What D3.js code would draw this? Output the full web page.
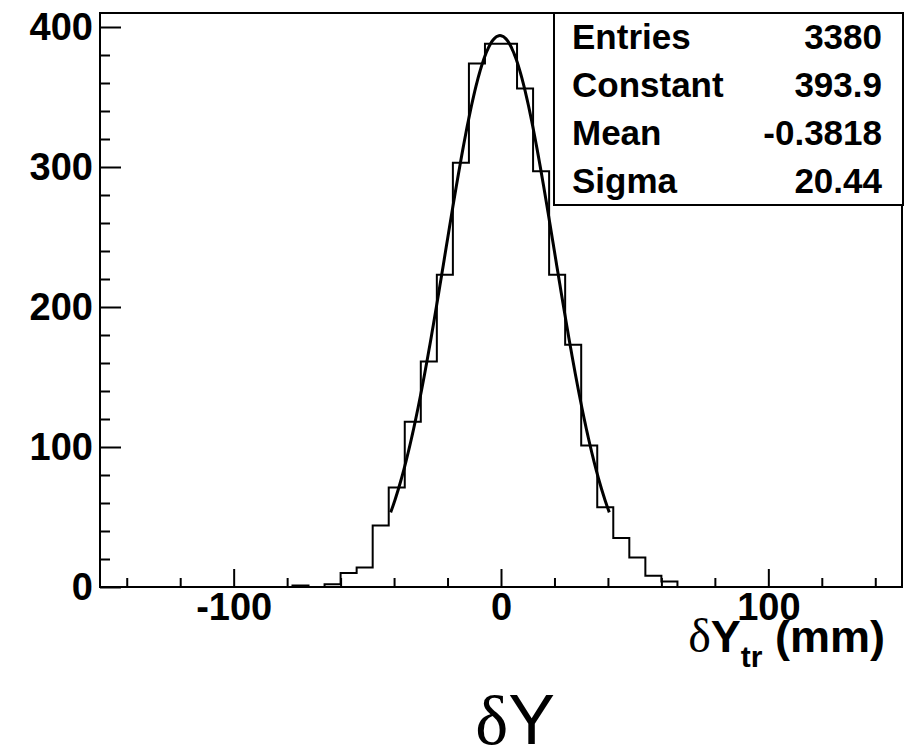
<!DOCTYPE html>
<html>
<head>
<meta charset="utf-8">
<script src="https://cdn.jsdelivr.net/npm/d3@7"></script>
<style>
  body { margin: 0; background: #fff; }
  svg { display: block; }
  .tick text { font-family: "Liberation Sans", Arial, sans-serif; font-weight: bold; font-size: 38px; fill: #000; }
  .tick line { stroke: #000; stroke-width: 2; }
  .stats text { font-family: "Liberation Sans", Arial, sans-serif; font-weight: bold; font-size: 35px; fill: #000; }
</style>
</head>
<body>
<svg id="chart" width="913" height="750"></svg>
<script>
// histogram: 50 bins from -150 to 150
const binLow = -150;
const binWidth = 6;
const counts = [
  0, 0, 0, 0, 0, 0, 0, 0, 0, 0,
  0, 0, 1, 0, 2, 10, 14, 44, 71, 118,
  161, 223, 303, 374, 388, 388, 356, 297, 223, 173,
  101, 57, 35, 21, 8, 4, 0, 0, 0, 0,
  0, 0, 0, 0, 0, 0, 0, 0, 0, 0
];

// gaussian fit parameters (from stats box)
const statLabels = ["Entries", "Constant", "Mean", "Sigma"];
const statValues = ["3380", "393.9", "-0.3818", "20.44"];
const fitConstant = 393.9, fitMean = -0.3818, fitSigma = 20.44;

const xMajorTicks = [-100, 0, 100];
const xMinorTicks = [-140, -120, -80, -60, -40, -20, 20, 40, 60, 80, 120, 140];
const yMajorTicks = [0, 100, 200, 300, 400];
const yMinorTicks = [20, 40, 60, 80, 120, 140, 160, 180, 220, 240, 260, 280, 320, 340, 360, 380];

const svg = d3.select("#chart");
const frame = { left: 100, right: 902, top: 13, bottom: 587 };

const x = d3.scaleLinear().domain([-150, 150]).range([frame.left, frame.right]);
const y = d3.scaleLinear().domain([0, 410]).range([frame.bottom, frame.top]);

// оси: тики внутрь рамки
const xAxis = svg.append("g").attr("transform", `translate(0,${frame.bottom})`)
  .call(d3.axisBottom(x).tickValues(xMajorTicks).tickSizeInner(-18).tickSizeOuter(0).tickPadding(6).tickFormat(d3.format("d")));
svg.append("g").attr("transform", `translate(0,${frame.bottom})`)
  .call(d3.axisBottom(x).tickValues(xMinorTicks).tickSizeInner(-9).tickSizeOuter(0).tickFormat(""));
xAxis.selectAll("text").attr("dy", "0.71em");

const yAxis = svg.append("g").attr("transform", `translate(${frame.left},0)`)
  .call(d3.axisLeft(y).tickValues(yMajorTicks).tickSizeInner(-21).tickSizeOuter(0).tickPadding(7).tickFormat(d3.format("d")));
svg.append("g").attr("transform", `translate(${frame.left},0)`)
  .call(d3.axisLeft(y).tickValues(yMinorTicks).tickSizeInner(-10).tickSizeOuter(0).tickFormat(""));
svg.selectAll(".domain").remove();
xAxis.selectAll("text").text(d => d === -100 ? "-100" : d);

// histogram outline
const stepPts = [];
counts.forEach((c, i) => {
  const lo = binLow + i * binWidth;
  stepPts.push([lo, c], [lo + binWidth, c]);
});
svg.append("path")
  .attr("d", d3.line().x(d => x(d[0])).y(d => y(d[1]))(stepPts))
  .attr("fill", "none").attr("stroke", "#000").attr("stroke-width", 2);

// fit curve, drawn over mean ± 2 sigma
const fitLo = fitMean - 2 * fitSigma, fitHi = fitMean + 2 * fitSigma;
const fitPts = d3.range(0, 201).map(i => {
  const v = fitLo + (fitHi - fitLo) * i / 200;
  return [v, fitConstant * Math.exp(-0.5 * ((v - fitMean) / fitSigma) ** 2)];
});
svg.append("path")
  .attr("d", d3.line().curve(d3.curveBasis).x(d => x(d[0])).y(d => y(d[1]))(fitPts))
  .attr("fill", "none").attr("stroke", "#000").attr("stroke-width", 3);

// рамка
svg.append("rect")
  .attr("x", frame.left).attr("y", frame.top)
  .attr("width", frame.right - frame.left).attr("height", frame.bottom - frame.top)
  .attr("fill", "none").attr("stroke", "#000").attr("stroke-width", 2);

// stats box
const box = { left: 554, right: 903, top: 13, bottom: 205 };
const stats = svg.append("g").attr("class", "stats");
stats.append("rect")
  .attr("x", box.left).attr("y", box.top)
  .attr("width", box.right - box.left).attr("height", box.bottom - box.top)
  .attr("fill", "#fff").attr("stroke", "#000").attr("stroke-width", 2);
const rowH = (box.bottom - box.top) / statLabels.length;
statLabels.forEach((lab, i) => {
  const base = box.top + rowH * (i + 0.5) + 12;
  stats.append("text").attr("x", 572).attr("y", base).text(lab);
  stats.append("text").attr("x", 882).attr("y", base).attr("text-anchor", "end").text(statValues[i]);
});

// x axis title
const title = svg.append("text")
  .attr("x", 885).attr("y", 652).attr("text-anchor", "end")
  .style("font-family", "'Liberation Sans', Arial, sans-serif").style("font-weight", "bold").style("font-size", "45px");
title.append("tspan").style("font-family", "'Liberation Serif', 'Times New Roman', serif").style("font-weight", "normal").style("font-size", "48px").text("δ");
title.append("tspan").text("Y");
title.append("tspan").attr("dy", 15).style("font-size", "30px").text("tr");
title.append("tspan").attr("dy", -15).text(" (mm)");

// caption below
const cap = svg.append("text")
  .attr("x", 515).attr("y", 744).attr("text-anchor", "middle")
  .style("font-size", "70px");
cap.append("tspan").style("font-family", "'Liberation Serif', 'Times New Roman', serif").text("δ");
cap.append("tspan").style("font-family", "'Liberation Sans', Arial, sans-serif").text("Y");
</script>
</body>
</html>
